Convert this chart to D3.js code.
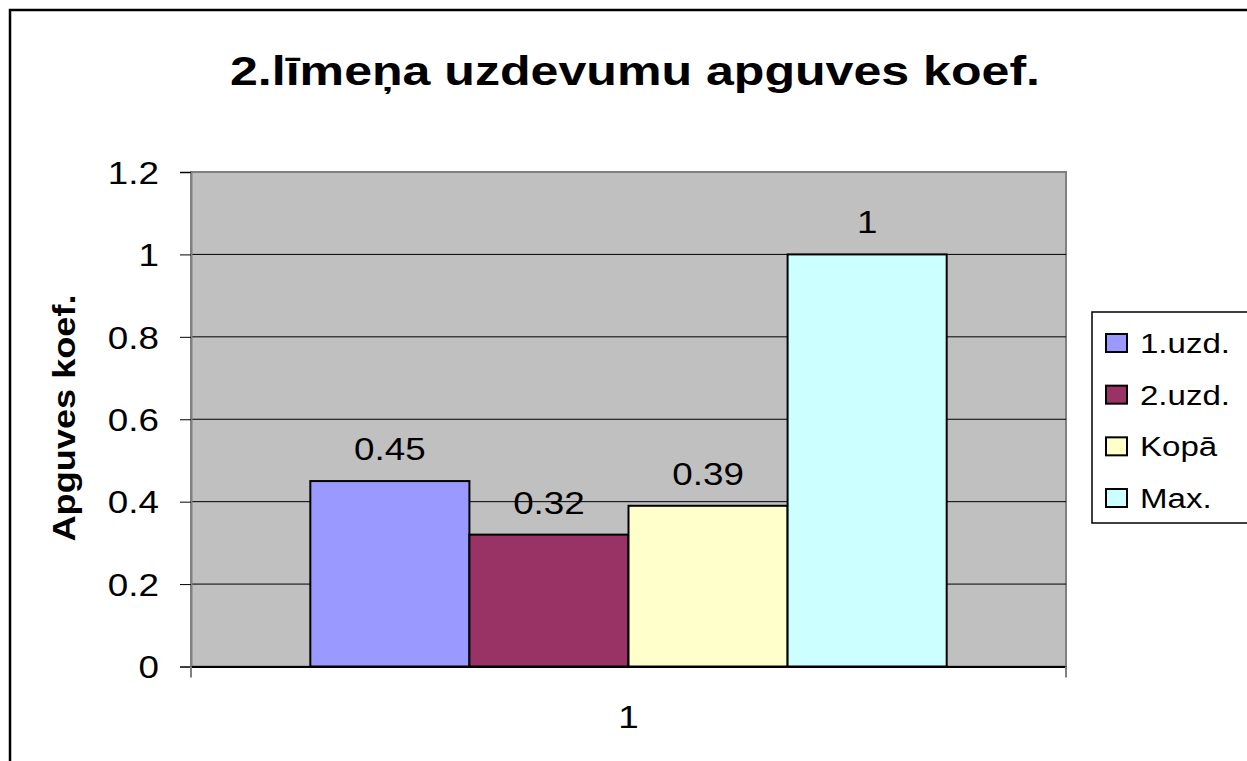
<!DOCTYPE html>
<html>
<head>
<meta charset="utf-8">
<script src="https://cdn.jsdelivr.net/npm/d3@7"></script>
<style>
  html, body { margin: 0; padding: 0; background: #fff; }
  svg { display: block; font-family: "Liberation Sans", Arial, sans-serif; }
</style>
</head>
<body>
<svg id="chart" width="1247" height="761"></svg>
<script>
// ---- data ----
const categories = ["1"];
const seriesNames = ["1.uzd.", "2.uzd.", "Kopā", "Max."];
const seriesValues = [0.45, 0.32, 0.39, 1];
const seriesColors = ["#9999FF", "#993366", "#FFFFCC", "#CCFFFF"];
const yTicks = [0, 0.2, 0.4, 0.6, 0.8, 1, 1.2];
const titleText = "2.līmeņa uzdevumu apguves koef.";
const yAxisTitle = "Apguves koef.";

// ---- layout ----
const FONT = "Liberation Sans, Arial, sans-serif";
const SX = 1.15; // horizontal stretch of the original renderer's text
const svg = d3.select("#chart");
const plot = { left: 191, top: 172, right: 1066, bottom: 666.5 };

// converts x/y positioning into a translate + horizontal stretch
function stretch(sel, sx, rot) {
  sel.each(function () {
    const t = d3.select(this);
    const x = +t.attr("x") || 0, y = +t.attr("y") || 0;
    t.attr("x", 0).attr("y", 0)
     .attr("transform", `translate(${x},${y})${rot ? ` rotate(${rot})` : ""} scale(${sx},1)`);
  });
}

// outer frame
svg.append("rect")
  .attr("x", 10).attr("y", 10)
  .attr("width", 1300).attr("height", 900)
  .attr("fill", "#fff").attr("stroke", "#000").attr("stroke-width", 2.5);

const y = d3.scaleLinear().domain([0, 1.2]).range([plot.bottom, plot.top]);
const x0 = d3.scaleBand().domain(categories).range([plot.left, plot.right])
  .paddingInner(0).paddingOuter(0.1875);
const x1 = d3.scaleBand().domain(seriesNames).range([0, x0.bandwidth()]).padding(0);

// plot area
svg.append("rect")
  .attr("x", plot.left).attr("y", plot.top)
  .attr("width", plot.right - plot.left).attr("height", plot.bottom - plot.top)
  .attr("fill", "#C0C0C0").attr("stroke", "#808080").attr("stroke-width", 2);

// gridlines
svg.append("g").selectAll("line").data(yTicks.filter(d => d > 0 && d < 1.2)).join("line")
  .attr("x1", plot.left).attr("x2", plot.right)
  .attr("y1", d => y(d)).attr("y2", d => y(d))
  .attr("stroke", "#000").attr("stroke-width", 1);

// y axis
const yAxis = d3.axisLeft(y).tickValues(yTicks).tickSize(11).tickPadding(21)
  .tickFormat(d => String(+d.toFixed(1)));
const gy = svg.append("g").attr("transform", `translate(${plot.left},0)`).call(yAxis);
gy.select(".domain").attr("stroke", "#808080").attr("stroke-width", 2);
gy.selectAll(".tick line").attr("stroke", "#000");
gy.selectAll(".tick text").attr("font-size", 32).attr("fill", "#000")
  .attr("font-family", FONT).attr("dy", "0.35em").call(stretch, SX);

// x axis
const xAxis = d3.axisBottom(x0).tickSize(0).tickPadding(0);
const gx = svg.append("g").attr("transform", `translate(0,${plot.bottom})`).call(xAxis);
gx.select(".domain").attr("stroke", "#000").attr("stroke-width", 2);
gx.selectAll(".tick text").attr("font-size", 32).attr("fill", "#000")
  .attr("font-family", FONT).attr("dy", null).attr("y", 61.5).call(stretch, SX);
// x-axis edge tick marks
svg.append("g").selectAll("line").data(x0.range()).join("line")
  .attr("x1", d => d).attr("x2", d => d)
  .attr("y1", plot.bottom).attr("y2", plot.bottom + 11)
  .attr("stroke", "#808080").attr("stroke-width", 2);

// bars
const barData = seriesNames.map((n, i) => ({ cat: categories[0], name: n, value: seriesValues[i], color: seriesColors[i] }));
svg.append("g").selectAll("rect").data(barData).join("rect")
  .attr("x", d => x0(d.cat) + x1(d.name))
  .attr("y", d => y(d.value))
  .attr("width", x1.bandwidth())
  .attr("height", d => y(0) - y(d.value))
  .attr("fill", d => d.color)
  .attr("stroke", "#000").attr("stroke-width", 2);

// data labels
svg.append("g").selectAll("text").data(barData).join("text")
  .attr("x", d => x0(d.cat) + x1(d.name) + x1.bandwidth() / 2)
  .attr("y", d => y(d.value) - 21)
  .attr("text-anchor", "middle")
  .attr("font-size", 32).attr("fill", "#000")
  .text(d => String(d.value))
  .call(stretch, SX);

// title
svg.append("text")
  .attr("x", 635).attr("y", 85)
  .attr("text-anchor", "middle")
  .attr("font-size", 41).attr("font-weight", "bold").attr("fill", "#000")
  .attr("textLength", 810).attr("lengthAdjust", "spacingAndGlyphs")
  .text(titleText);

// y axis title
svg.append("text")
  .attr("x", 75).attr("y", 418)
  .attr("text-anchor", "middle")
  .attr("font-size", 32).attr("font-weight", "bold").attr("fill", "#000")
  .text(yAxisTitle)
  .call(stretch, 1.13, -90);

// legend
const legend = svg.append("g");
legend.append("rect")
  .attr("x", 1092).attr("y", 312).attr("width", 160).attr("height", 211)
  .attr("fill", "#fff").attr("stroke", "#000").attr("stroke-width", 1.5);
const ly = d3.scalePoint().domain(seriesNames).range([343, 498]);
const items = legend.selectAll("g.item").data(barData).join("g").attr("class", "item")
  .attr("transform", d => `translate(0,${ly(d.name)})`);
items.append("rect")
  .attr("x", 1106).attr("y", -9).attr("width", 21).attr("height", 18)
  .attr("fill", d => d.color).attr("stroke", "#000").attr("stroke-width", 2);
items.append("text")
  .attr("x", 1140).attr("y", 10)
  .attr("font-size", 28).attr("fill", "#000")
  .text(d => d.name)
  .call(stretch, 1.18);
</script>
</body>
</html>
